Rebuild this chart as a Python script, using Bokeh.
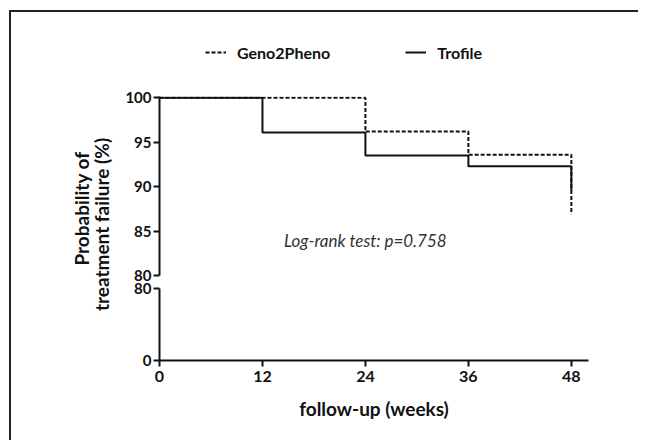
from bokeh.plotting import figure
from bokeh.layouts import row, column
from bokeh.models import FixedTicker, Range1d, Label, Legend, LegendItem
from bokeh.embed import file_html
from bokeh.resources import INLINE

# ---- data ----
weeks_g2p = [0, 24, 36, 48]
surv_g2p = [100, 96.2, 93.6, 86.9]
weeks_tro = [0, 12, 24, 36, 48]
surv_tro = [100, 96.1, 93.5, 92.3, 89.6]
x_ticks = [0, 12, 24, 36, 48]
y_ticks_top = [80, 85, 90, 95, 100]
y_ticks_bottom = [0, 80]
series_names = ["Geno2Pheno", "Trofile"]
annotation = "Log-rank test: p=0.758"
FONT = "Lato"
INK = "#111111"
G2P_DASH = "4 2"


def style_axis(ax):
    ax.axis_line_width = 2
    ax.axis_line_color = INK
    ax.major_tick_line_width = 2
    ax.major_tick_line_color = INK
    ax.major_tick_out = 6
    ax.major_tick_in = 0
    ax.minor_tick_line_color = None
    ax.major_label_text_font = FONT
    ax.major_label_text_font_style = "bold"
    ax.major_label_text_font_size = "15px"
    ax.major_label_text_color = INK


def bare(fig):
    fig.grid.visible = False
    fig.outline_line_color = None
    fig.border_fill_alpha = 0
    fig.background_fill_alpha = 0


x_range = Range1d(0, 50)

# ---- legend strip (its renderers lie outside its own frame; only the legend shows) ----
leg = figure(width=520, height=70, x_range=Range1d(1000, 1001), y_range=Range1d(1000, 1001),
             x_axis_location=None, y_axis_location=None, toolbar_location=None,
             output_backend="svg", min_border=0)
bare(leg)
lr1 = leg.line(weeks_g2p, surv_g2p, line_color=INK, line_width=2, line_dash=G2P_DASH)
lr2 = leg.line(weeks_tro, surv_tro, line_color=INK, line_width=2)
legend = Legend(items=[LegendItem(label=series_names[0], renderers=[lr1]),
                       LegendItem(label=series_names[1], renderers=[lr2])],
                orientation="horizontal", location=(46, 20), glyph_width=21,
                glyph_height=20, label_standoff=11, spacing=75, padding=0, margin=0,
                border_line_color=None, background_fill_alpha=0,
                label_text_font=FONT, label_text_font_style="bold",
                label_text_font_size="16px", label_text_color=INK)
leg.add_layout(legend)

# ---- upper segment (80-100) ----
top = figure(width=520, height=209, x_range=x_range, y_range=Range1d(80, 100.15),
             x_axis_location=None, toolbar_location=None, output_backend="svg",
             min_border_left=41, min_border_right=50, min_border_top=14, min_border_bottom=16)
bare(top)
top.yaxis.ticker = FixedTicker(ticks=y_ticks_top)
style_axis(top.yaxis[0])
top.yaxis.major_label_standoff = 2

top.step(weeks_g2p, surv_g2p, mode="after", line_color=INK, line_width=2,
         line_dash=G2P_DASH)
top.step(weeks_tro, surv_tro, mode="after", line_color=INK, line_width=2)

top.add_layout(Label(x=24, y=83.9, text=annotation, text_align="center",
                     text_baseline="middle", text_font=FONT, text_font_style="italic",
                     text_font_size="17px", text_color="#333333"))

# ---- lower segment (0-80); its transparent canvas overlaps the upper one a little ----
bottom = figure(width=520, height=168, x_range=x_range, y_range=Range1d(0, 80),
                toolbar_location=None, output_backend="svg",
                min_border_left=41, min_border_right=50, min_border_top=16, min_border_bottom=80,
                styles={"margin-top": "-19px"})
bare(bottom)
bottom.yaxis.ticker = FixedTicker(ticks=y_ticks_bottom)
bottom.xaxis.ticker = FixedTicker(ticks=x_ticks)
style_axis(bottom.yaxis[0])
style_axis(bottom.xaxis[0])
bottom.xaxis.major_label_text_font_size = "16px"
bottom.yaxis.major_label_standoff = 2
bottom.xaxis.major_label_standoff = 4
bottom.xaxis.axis_label = "follow-up (weeks)"
bottom.xaxis.axis_label_text_font = FONT
bottom.xaxis.axis_label_text_font_style = "bold"
bottom.xaxis.axis_label_text_font_size = "19px"
bottom.xaxis.axis_label_text_color = INK
bottom.xaxis.axis_label_standoff = 12

# ---- y-axis title spanning both segments ----
lab = figure(width=107, height=428, x_range=Range1d(0, 107), y_range=Range1d(0, 428),
             x_axis_location=None, y_axis_location=None, toolbar_location=None,
             output_backend="svg", min_border=0)
bare(lab)
for xx, yy, t in [(70, 232, "Probability of"), (90, 216, "treatment failure (%)")]:
    lab.add_layout(Label(x=xx, y=yy, text=t, angle=1.5707963, text_align="center",
                         text_baseline="middle", text_font=FONT, text_font_style="bold",
                         text_font_size="19px", text_color=INK))

layout = row(lab, column(leg, top, bottom),
             styles={"border-left": "2px solid #222", "border-top": "2px solid #222",
                     "margin-left": "9px", "margin-top": "10px"})

open("out.html", "w").write(file_html(layout, INLINE))
